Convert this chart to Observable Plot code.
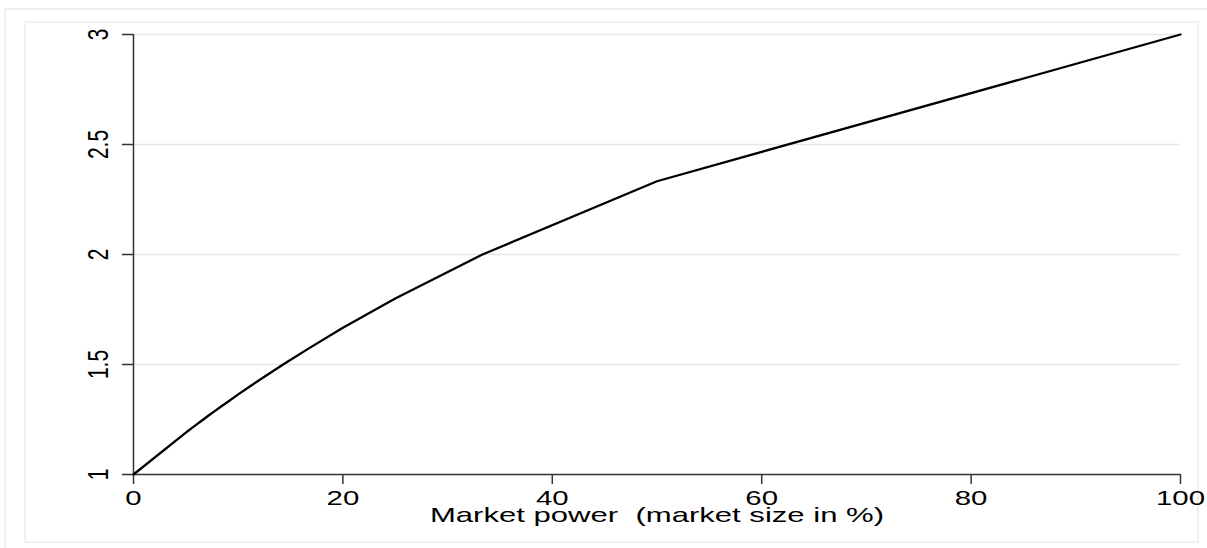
<!DOCTYPE html>
<html>
<head>
<meta charset="utf-8">
<script src="https://cdn.jsdelivr.net/npm/d3@7"></script>
<script src="https://cdn.jsdelivr.net/npm/@observablehq/plot@0.6"></script>
<style>
  html, body { margin: 0; padding: 0; background: #fff; }
  svg text { white-space: pre; }
</style>
</head>
<body>
<div id="chart"></div>
<script>
// Market size (%) at each kink of the curve
const marketSize = [0, 5, 5.26, 5.56, 5.88, 6.25, 6.67, 7.14, 7.69, 8.33, 9.09, 10, 11.11, 12.5, 14.29, 16.67, 20, 25, 33.33, 50, 100];
// Market power value at each kink
const powerValue = [1, 1.19, 1.2, 1.211, 1.222, 1.235, 1.25, 1.267, 1.286, 1.308, 1.333, 1.364, 1.4, 1.444, 1.5, 1.571, 1.667, 1.8, 2, 2.333, 3];
const xTicks = [0, 20, 40, 60, 80, 100];
const yTicks = [1, 1.5, 2, 2.5, 3];
const yGrid = [1.5, 2, 2.5, 3];
const xTitle = "Market power  (market size in %)";

const curve = marketSize.map((x, i) => ({x, y: powerValue[i]}));

const W = 1207, H = 548;
const FS = 21, STRETCH = 1.4, TITLE_STRETCH = 1.48;
const chart = Plot.plot({
  width: W, height: H,
  marginLeft: 133, marginRight: 27, marginTop: 34, marginBottom: 74,
  style: {fontFamily: "'Liberation Sans', Arial, sans-serif", background: "#fff", color: "#000"},
  x: {domain: [0, 100]},
  y: {domain: [1, 3]},
  marks: [
    Plot.gridY(yGrid, {stroke: "#e6e6e6", strokeOpacity: 1, strokeWidth: 1.5}),
    Plot.axisX(xTicks, {tickSize: 10, tickPadding: 6, fontSize: FS, label: null, stroke: "#333", strokeWidth: 1.5, fill: "#000"}),
    Plot.axisY(yTicks, {tickSize: 11, tickFormat: () => "", label: null, stroke: "#333", strokeWidth: 1.5}),
    Plot.text(yTicks, {y: d => d, text: d => String(d), frameAnchor: "left", dx: -35, rotate: -90, textAnchor: "middle", lineAnchor: "middle", fontSize: FS, fill: "#000"}),
    Plot.ruleX([0], {stroke: "#333", strokeWidth: 1.5}),
    Plot.ruleY([1], {stroke: "#333", strokeWidth: 1.5}),
    Plot.line(curve, {x: "x", y: "y", stroke: "#000", strokeWidth: 2.3}),
    Plot.text([xTitle], {frameAnchor: "bottom", dy: 41, fontSize: FS, fill: "#000", textAnchor: "middle", lineAnchor: "middle"})
  ]
});

const svg = d3.select(chart);
// the reference's lettering is drawn wide: stretch text horizontally about its anchor
svg.selectAll("text").each(function () {
  const s = this.textContent === xTitle ? TITLE_STRETCH : STRETCH;
  const t = this.getAttribute("transform") || "";
  const m = t.match(/^\s*translate\(\s*([-\d.e]+)[ ,]+([-\d.e]+)\s*\)(.*)$/);
  if (m) {
    this.setAttribute("transform", `translate(${m[1]},${m[2]}) scale(${s},1)${m[3]}`);
  } else {
    const x = +(this.getAttribute("x") || 0), y = +(this.getAttribute("y") || 0);
    this.removeAttribute("x"); this.removeAttribute("y");
    this.setAttribute("transform", `${t} translate(${x},${y}) scale(${s},1)`);
  }
});
svg.insert("rect", ":first-child").attr("x", 5).attr("y", 9).attr("width", W).attr("height", H)
  .attr("fill", "none").attr("stroke", "#ececec").attr("stroke-width", 1.5);
svg.insert("rect", ":first-child").attr("x", 25).attr("y", 22).attr("width", 1173).attr("height", 520)
  .attr("fill", "none").attr("stroke", "#ececec").attr("stroke-width", 1.5);
document.getElementById("chart").appendChild(chart);
</script>
</body>
</html>
